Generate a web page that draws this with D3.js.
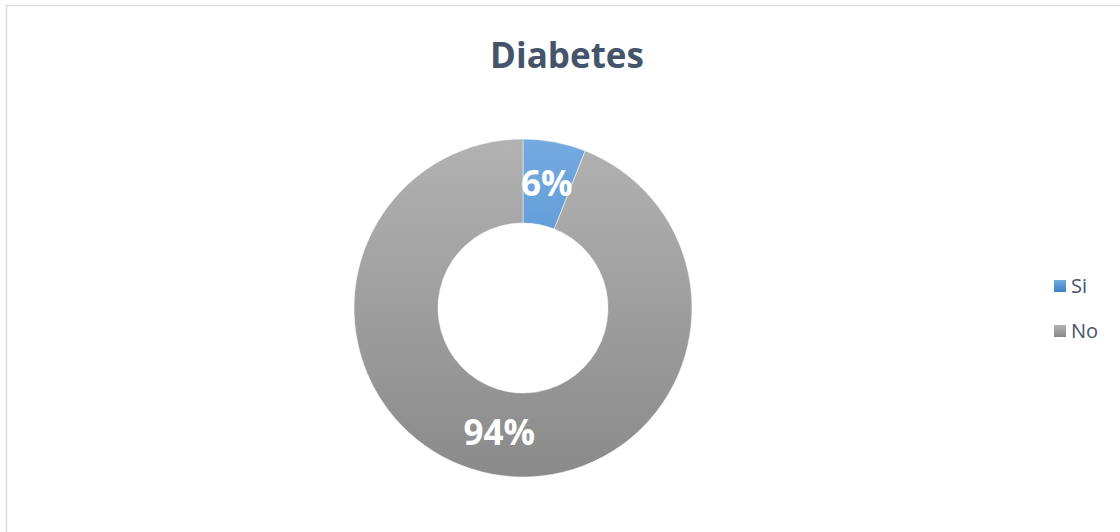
<!DOCTYPE html>
<html><head><meta charset="utf-8">
<script src="https://cdn.jsdelivr.net/npm/d3@7"></script>
<style>body{margin:0;background:#fff}svg{display:block}</style>
</head><body>
<svg id="c" width="1120" height="532"></svg>
<script>
const categories = ["Si", "No"];
const values = [6, 94];
const labels = ["6%", "94%"];
const title = "Diabetes";

const svg = d3.select("#c");
const W = 1120, H = 532;
const defs = svg.append("defs");
const grads = [["#74aae0", "#3a80c8"], ["#b2b2b2", "#8a8a8a"]];
const cx = 523, cy = 308, rOut = 169, rIn = 85;
grads.forEach((g, i) => {
  const lg = defs.append("linearGradient").attr("id", "g" + i)
    .attr("gradientUnits", "userSpaceOnUse")
    .attr("x1", 0).attr("y1", -rOut).attr("x2", 0).attr("y2", rOut);
  lg.append("stop").attr("offset", 0).attr("stop-color", g[0]);
  lg.append("stop").attr("offset", 1).attr("stop-color", g[1]);
});
const colorScale = d3.scaleOrdinal().domain(categories).range(["url(#g0)", "url(#g1)"]);
const legendColor = d3.scaleOrdinal().domain(categories).range(["url(#lg0)", "url(#lg1)"]);
grads.forEach((g, i) => {
  const lg = defs.append("linearGradient").attr("id", "lg" + i)
    .attr("x1", 0).attr("y1", 0).attr("x2", 0).attr("y2", 1);
  lg.append("stop").attr("offset", 0).attr("stop-color", g[0]);
  lg.append("stop").attr("offset", 1).attr("stop-color", g[1]);
});

svg.append("rect").attr("x", 6.5).attr("y", 5.5).attr("width", W + 10).attr("height", H + 10)
  .attr("fill", "#fff").attr("stroke", "#d9dde3").attr("stroke-width", 1.5);

svg.append("text").attr("x", 567).attr("y", 68).attr("text-anchor", "middle")
  .attr("font-family", "'Open Sans', sans-serif").attr("font-weight", "bold")
  .attr("font-size", 35).attr("fill", "#44546a").text(title);

const data = categories.map((c, i) => ({ c, v: values[i], l: labels[i] }));
const pie = d3.pie().sort(null).value(d => d.v);
const arc = d3.arc().innerRadius(rIn).outerRadius(rOut);
const labelArc = d3.arc().innerRadius(127).outerRadius(127);
const g = svg.append("g").attr("transform", `translate(${cx},${cy})`);
const arcs = pie(data);
g.selectAll("path").data(arcs).join("path")
  .attr("d", arc).attr("fill", d => colorScale(d.data.c))
  .attr("stroke", "#fff").attr("stroke-width", 0.5);
g.selectAll("text").data(arcs).join("text")
  .attr("transform", d => `translate(${labelArc.centroid(d)})`)
  .attr("text-anchor", "middle").attr("dy", "0.36em")
  .attr("font-family", "'Open Sans', sans-serif").attr("font-weight", "bold")
  .attr("font-size", 35).attr("fill", "#fff").text(d => d.data.l);

const lg = svg.append("g");
const ly = d3.scalePoint().domain(categories).range([286, 331]);
categories.forEach(c => {
  lg.append("rect").attr("x", 1054).attr("y", ly(c) - 6).attr("width", 12).attr("height", 12)
    .attr("fill", legendColor(c));
  lg.append("text").attr("x", 1071).attr("y", ly(c)).attr("dy", "0.36em")
    .attr("font-family", "'Open Sans', sans-serif").attr("font-size", 20)
    .attr("fill", "#44546a").text(c);
});
</script>
</body></html>
